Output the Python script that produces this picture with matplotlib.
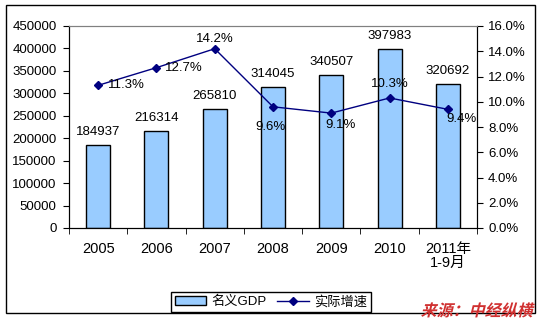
import matplotlib.pyplot as plt
import numpy as np
from matplotlib.patches import Rectangle, PathPatch
from matplotlib.textpath import TextPath
from matplotlib.font_manager import FontProperties
from matplotlib.transforms import Affine2D, IdentityTransform

plt.rcParams['font.family'] = ['Liberation Sans', 'Noto Sans CJK SC']
plt.rcParams['font.size'] = 9

years = ['2005', '2006', '2007', '2008', '2009', '2010', '2011年\n1-9月']
gdp = [184937, 216314, 265810, 314045, 340507, 397983, 320692]
growth = [11.3, 12.7, 14.2, 9.6, 9.1, 10.3, 9.4]

# pixel offsets of the growth labels from their markers (dx, dy, ha)
growth_label_pos = [(10, 0, 'left'), (9, 0, 'left'), (0, 10, 'center'),
                    (-3, -20, 'center'), (9, -12, 'center'),
                    (0, 14, 'center'), (14, -10, 'center')]

fig = plt.figure(figsize=(5.42, 3.22), dpi=100)
ax = fig.add_axes([69 / 542, 1 - 228 / 322, 408 / 542, 202 / 322])
ax2 = ax.twinx()

x = np.arange(len(years))
bars = ax.bar(x, gdp, 0.41, color='#99CCFF', edgecolor='black', linewidth=1,
              label='名义GDP', zorder=2)
for xi, v in zip(x, gdp):
    ax.annotate(str(v), (xi, v), xytext=(0, 13), textcoords='offset pixels',
                ha='center', va='center', fontsize=9.5)

ax.set_xlim(-0.5, len(years) - 0.5)
ax.set_ylim(0, 450000)
ax.set_yticks(np.arange(0, 450001, 50000))
ax.set_xticks(x)
ax.set_xticklabels(years, fontsize=10.5, linespacing=1.0)
ax.set_xticks(np.arange(-0.5, len(years), 1), minor=True)
ax.tick_params(axis='x', which='major', length=0, pad=10)
ax.tick_params(axis='x', which='minor', length=4, direction='out')
ax.tick_params(axis='y', length=4, direction='out', pad=5, labelsize=9.5)

line, = ax2.plot(x, growth, color='#000080', linewidth=1, marker='D',
                 markersize=4, label='实际增速', zorder=3)
for xi, v, (dx, dy, ha) in zip(x, growth, growth_label_pos):
    ax2.annotate(f'{v:.1f}%', (xi, v), xytext=(dx, dy),
                 textcoords='offset pixels', ha=ha, va='center', fontsize=9.5)
ax2.set_ylim(0, 16)
ax2.set_yticks(np.arange(0, 16.1, 2))
ax2.set_yticklabels([f'{t:.1f}%' for t in np.arange(0, 16.1, 2)])
ax2.tick_params(axis='y', length=4, direction='out', pad=4, labelsize=9.5)

for a in (ax, ax2):
    a.spines['top'].set_color('#808080')
    a.spines['left'].set_color('black')
    a.spines['right'].set_color('black')
    a.spines['bottom'].set_color('black')

fig.legend(handles=[bars, line], loc='center', ncol=2,
           bbox_to_anchor=(271 / 542, 1 - 302 / 322), frameon=True,
           fancybox=False, edgecolor='black', framealpha=1, fontsize=9.5,
           handlelength=2.4, handletextpad=0.4, columnspacing=0.8,
           borderpad=0.25)

# outer chart frame
fig.patches.append(Rectangle((6 / 542, 1 - 313 / 322), 529 / 542, 308 / 322,
                             transform=fig.transFigure, fill=False,
                             edgecolor='black', linewidth=1))

# slanted source note, drawn as a sheared text path in pixel space
src = TextPath((0, 0), '来源：中经纵横', size=16,
               prop=FontProperties(family='Noto Sans CJK SC', weight='bold'))
w = src.get_extents().width
tr = Affine2D().skew_deg(14, 0).translate(532 - w, 322 - 316) + IdentityTransform()
fig.patches.append(PathPatch(src, transform=tr, facecolor='#D03030',
                             edgecolor='none'))

fig.savefig('out.png', dpi=100)
